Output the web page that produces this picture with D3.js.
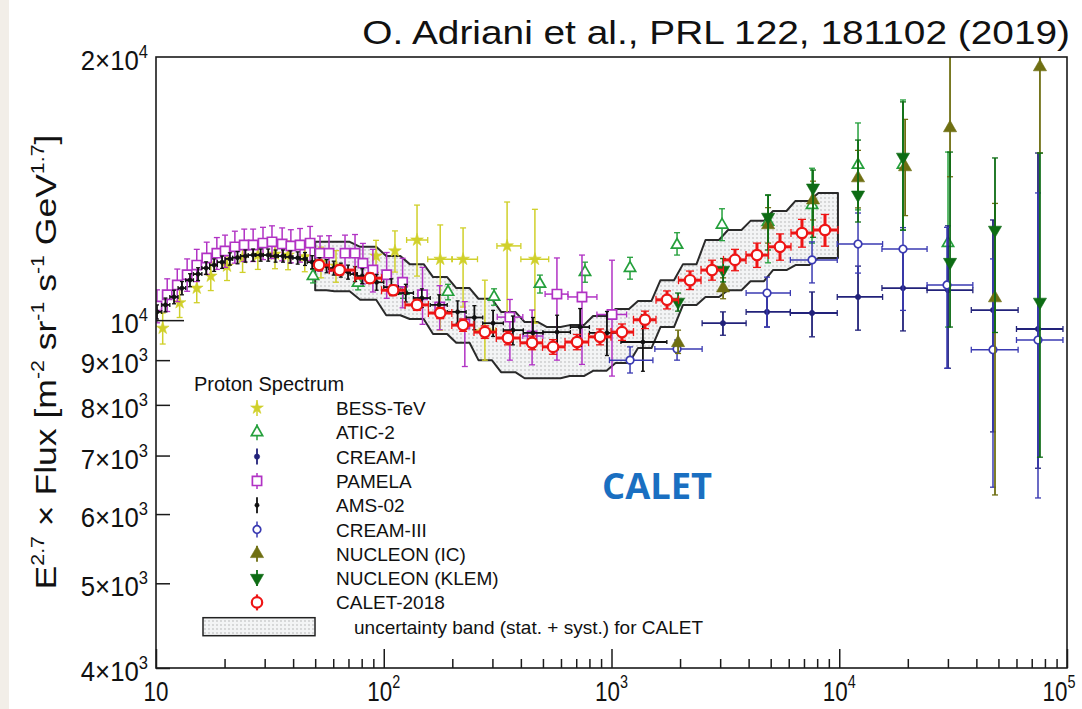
<!DOCTYPE html>
<html>
<head>
<meta charset="utf-8">
<script src="https://cdnjs.cloudflare.com/ajax/libs/d3/7.8.5/d3.min.js"></script>
<style>
  body { margin: 0; background: #fff; }
  svg { display: block; font-family: "Liberation Sans", Arial, sans-serif; }
</style>
</head>
<body>
<script>
// ---- values (E in GeV, flux x E^2.7) ----
// BESS-TeV
var bessE = [10.7,12.7,15.1,17.4,20.5,24,28,33.3,38,45,53,61.7,92.5,112,140,177,223,278,348,461];
var bessF = [9790,10470,10880,11230,11530,11780,11870,11900,11870,11820,11650,11530,11840,12000,12350,11740,11740,9740,12160,11740];
var bessErrHi = [400,400,410,420,430,440,440,450,450,460,470,480,500,650,1190,1110,1010,1370,1490,1650];
var bessErrLo = [400,400,410,420,430,440,440,450,450,460,470,480,500,650,1120,2000,1390,740,2080,1820];
var bessBinLo = [null,null,null,null,null,null,null,null,null,null,null,null,null,null,126,156,200,250,314,400];
var bessBinHi = [null,null,null,null,null,null,null,null,null,null,null,null,null,null,156,199,258,310,400,530];

// ATIC-2
var aticE = [48.9,77.1,121.5,191.5,305,485,765,1206,1940,3057,4866,7594,12090,19050,30030];
var aticF = [11230,11030,10800,10770,10630,11000,11350,11470,12190,12850,12950,13540,15050,15050,12250];
var aticErrHi = [200,200,210,220,230,260,300,330,400,560,940,1380,1760,2810,3320];
var aticErrLo = [200,200,210,220,230,260,300,330,320,520,1320,1290,1680,2380,2430];

// CREAM-I
var cream1E = [3086,4818,7594,12090,19050,30030,47320,74590];
var cream1F = [9920,10220,10190,10630,10880,10820,10270,9770];
var cream1ErrHi = [300,500,580,900,1160,2000,2750,5760];
var cream1ErrLo = [310,400,620,890,1160,2010,2820,3000];
var cream1BinLo = [2500,3900,6100,9800,15400,24300,38000,60000];
var cream1BinHi = [3900,6100,9800,15500,24300,38600,61000,96000];

// PAMELA
var pamE = [10.1,11.2,12.4,13.7,15.1,16.7,18.5,20.1,22.2,24.4,26.7,29.5,32.3,35.8,39.1,42.9,47.5,52.5,57.5,67.6,74.8,81,89.6,103,121,148,176,227,358,448,576,742,1005];
var pamF = [10380,10690,10970,11270,11560,11780,11930,12000,12130,12190,12190,12250,12290,12220,12160,12190,12250,11930,11930,11930,11930,11620,11410,11270,11050,10690,10350,9900,10080,9590,10710,10630,10150];
var pamErrHi = [450,460,470,480,490,500,500,510,510,520,520,520,530,530,530,540,550,550,560,580,600,620,640,680,720,800,600,600,480,680,1070,1240,1560];
var pamErrLo = [450,460,470,480,490,500,500,510,510,520,520,520,530,530,530,540,550,550,560,580,600,620,640,680,720,800,600,1050,1080,700,1710,1730,1520];
var pamBinLo = [null,null,null,null,null,null,null,null,null,null,null,null,null,null,null,null,null,null,null,null,null,null,null,null,null,null,null,null,315,408,511,644,863];
var pamBinHi = [null,null,null,null,null,null,null,null,null,null,null,null,null,null,null,null,null,null,null,null,null,null,null,null,null,null,null,null,408,500,644,863,1165];

// AMS-02
var amsE = [10.1,11.0,12.0,13.0,14.1,15.3,16.6,18.0,19.5,21.1,22.8,24.7,26.7,28.8,31.1,33.5,36.1,38.9,41.9,45.1,48.5,52.2,56.1,60.3,64.8,69.7,74.9,80.5,93,108,125,147,175,211,250,302,369,452,577,728,955,1374];
var amsF = [10220,10410,10630,10880,11110,11290,11470,11560,11650,11750,11790,11840,11870,11870,11870,11840,11840,11810,11780,11750,11650,11590,11530,11470,11410,11350,11290,11230,11050,10910,10740,10600,10410,10220,10070,9920,9740,9670,9690,9820,9670,9440];
var amsErr = [190,190,190,190,190,190,190,190,190,190,190,190,190,190,190,190,190,190,190,200,200,200,200,210,210,210,220,220,230,240,250,260,280,300,320,340,370,400,440,490,560,700];
var amsEdges = [9.6,10.6,11.5,12.5,13.5,14.6,15.9,17.2,18.6,20.1,21.7,23.5,25.4,27.4,29.6,31.9,34.4,37.0,39.9,42.9,46.1,49.6,53.3,57.3,61.6,66.2,71.2,76.6,86,100,116,135,160,190,230,272,335,410,500,660,800,1100,1750];

// CREAM-III
var cream3E = [1206,1940,4818,7594,12090,19050,29720,47320,74590];
var cream3F = [9000,9270,10740,11720,12220,12060,10970,9250,9490];
var cream3ErrHi = [320,220,460,570,1040,700,1800,2500,4490];
var cream3ErrLo = [300,270,920,690,900,1800,2160,2810,3230];
var cream3BinLo = [980,1550,3900,6100,9800,15400,24300,38000,60000];
var cream3BinHi = [1520,2500,6100,9800,15500,24300,38600,61000,96000];

// NUCLEON (IC)
var icE = [1960,3090,4870,7670,12090,19460,30650,48290,76070];
var icF = [9420,10880,12850,13720,14540,14970,16590,10600,19480];
var icErrHi = [320,300,600,700,1100,2000,6000,3000,8000];
var icErrLo = [260,300,600,700,1100,1800,2000,4290,3950];

// NUCLEON (KLEM)
var klemE = [1960,3090,4870,7670,12090,19050,30650,48290,76070];
var klemF = [10490,11410,13120,14170,13910,15370,11650,12680,10490];
var klemErrHi = [250,350,790,680,2160,2400,3920,2650,5040];
var klemErrLo = [250,350,1090,1730,960,2690,1830,3000,3520];

// CALET-2018 and its uncertainty band (one value per CALET bin)
var caletE = [52,64,87,110,140,177,223,278,351,448,554,706,890,1112,1403,1753,2212,2762,3485,4353,5493,6861,8659];
var caletF = [11560,11410,11170,10820,10410,10190,9870,9690,9540,9420,9320,9440,9570,9690,10010,10550,11110,11410,11720,11870,12130,12580,12680];
var caletErr = [150,150,150,150,150,150,160,160,170,170,180,190,200,210,230,250,270,300,330,380,420,460,530];
var caletEdges = [50,57.7,74.6,97.8,124,157,199,249,312,397,498,625,793,995,1249,1568,1969,2472,3102,3895,4890,6139,7708,9870];
var bandHi = [12290,12290,12130,11840,11590,11200,10880,10580,10220,9950,9820,9870,10110,10300,10520,11110,11590,12350,12680,12990,13330,13690,13980];
var bandLo = [10820,10790,10550,10130,10030,9640,9420,9000,8720,8580,8580,8630,8750,8930,9290,9820,10410,10630,10820,11080,11410,11560,11780];

// tick labels
var xTickVals = [10, 100, 1000, 10000, 100000];
var xTickExp = ["", "2", "3", "4", "5"];
var yTickVals = [4000, 5000, 6000, 7000, 8000, 9000, 10000, 20000];
var yTickMant = ["4", "5", "6", "7", "8", "9", "", "2"];
var yTickExp = ["3", "3", "3", "3", "3", "3", "4", "4"];

function makePoints(E, F, errLo, errHi, binLo, binHi) {
    return E.map(function(e, i) {
        return {E: e, F: F[i], lo: F[i] - errLo[i], hi: F[i] + errHi[i],
            e1: binLo ? binLo[i] : null, e2: binHi ? binHi[i] : null};
    });
}

var series = [
    {name: "BESS-TeV", pts: makePoints(bessE, bessF, bessErrLo, bessErrHi, bessBinLo, bessBinHi),
        color: "#d0d02a", sym: d3.symbolStar, size: 50, open: false, bar: 1.5, cap: 3},
    {name: "ATIC-2", pts: makePoints(aticE, aticF, aticErrLo, aticErrHi),
        color: "#25a03c", sym: d3.symbolTriangle, size: 55, open: true, bar: 1.5, cap: 3},
    {name: "CREAM-I", pts: makePoints(cream1E, cream1F, cream1ErrLo, cream1ErrHi, cream1BinLo, cream1BinHi),
        color: "#22227a", sym: d3.symbolCircle, size: 22, open: false, bar: 1.8, cap: 3},
    {name: "PAMELA", pts: makePoints(pamE, pamF, pamErrLo, pamErrHi, pamBinLo, pamBinHi),
        color: "#b132c4", sym: d3.symbolSquare, size: 85, open: true, bar: 1.5, cap: 3},
    {name: "AMS-02", pts: makePoints(amsE, amsF, amsErr, amsErr, amsEdges.slice(0, -1), amsEdges.slice(1)),
        color: "#111111", sym: d3.symbolCircle, size: 14, open: false, bar: 1.8, cap: 2},
    {name: "CREAM-III", pts: makePoints(cream3E, cream3F, cream3ErrLo, cream3ErrHi, cream3BinLo, cream3BinHi),
        color: "#3a3ab2", sym: d3.symbolCircle, size: 45, open: true, bar: 1.5, cap: 3},
    {name: "NUCLEON (IC)", pts: makePoints(icE, icF, icErrLo, icErrHi),
        color: "#6f6f12", sym: d3.symbolTriangle, size: 75, open: false, bar: 1.8, cap: 3},
    {name: "NUCLEON (KLEM)", pts: makePoints(klemE, klemF, klemErrLo, klemErrHi),
        color: "#0d6c14", sym: d3.symbolTriangle, size: 75, open: false, flip: true, bar: 1.8, cap: 3},
    {name: "CALET-2018", pts: makePoints(caletE, caletF, caletErr, caletErr, caletEdges.slice(0, -1), caletEdges.slice(1)),
        color: "#ee1515", sym: d3.symbolCircle, size: 85, open: true, bar: 3, cap: 4}
];

//svg size and margins
var svgWidth = 1082;
var svgHeight = 709;
var margin = {top: 57, right: 15, bottom: 41, left: 156};
var width = svgWidth - margin.left - margin.right;
var height = svgHeight - margin.top - margin.bottom;

var svg = d3.select("body").append("svg")
    .attr("width", svgWidth)
    .attr("height", svgHeight);
svg.append("rect").attr("width", svgWidth).attr("height", svgHeight).attr("fill", "#fff");
svg.append("rect").attr("width", 9).attr("height", svgHeight).attr("fill", "#f2eee8");

var defs = svg.append("defs");
var pat = defs.append("pattern").attr("id", "dots")
    .attr("width", 4).attr("height", 4).attr("patternUnits", "userSpaceOnUse");
pat.append("rect").attr("width", 4).attr("height", 4).attr("fill", "#f3f4f5");
pat.append("circle").attr("cx", 1).attr("cy", 1).attr("r", 0.65).attr("fill", "#a4a4a4");
defs.append("clipPath").attr("id", "plotclip")
    .append("rect").attr("width", width).attr("height", height);

var chartGroup = svg.append("g")
    .attr("transform", `translate(${margin.left},${margin.top})`);

//scales
var x = d3.scaleLog().domain([10, 1e5]).range([0, width]);
var y = d3.scaleLog().domain([4000, 20000]).range([height, 0]);

var plot = chartGroup.append("g").attr("clip-path", "url(#plotclip)");

//uncertainty band: flat step per calet bin with slanted joins
var bandTop = [], bandBot = [];
caletE.forEach(function(c, i) {
    var a = caletEdges[i], b = caletEdges[i + 1];
    var ea = i === 0 ? a : a * Math.pow(b / a, 0.2);
    var eb = i === caletE.length - 1 ? b : a * Math.pow(b / a, 0.8);
    bandTop.push([ea, bandHi[i]], [eb, bandHi[i]]);
    bandBot.push([ea, bandLo[i]], [eb, bandLo[i]]);
});
var bandLine = d3.line().x(d => x(d[0])).y(d => y(d[1]));
plot.append("path")
    .attr("d", bandLine(bandTop.concat(bandBot.reverse())) + "Z")
    .attr("fill", "url(#dots)")
    .attr("stroke", "#2a2a2a")
    .attr("stroke-width", 2)
    .attr("stroke-linejoin", "round");

function markerTransform(s, px, py) {
    return `translate(${px},${py})` + (s.flip ? " rotate(180)" : "");
}

//data series
series.forEach(function(s) {
    var g = plot.append("g");
    g.selectAll(".ey").data(s.pts).enter().append("line")
        .attr("x1", d => x(d.E)).attr("x2", d => x(d.E))
        .attr("y1", d => y(d.lo)).attr("y2", d => y(d.hi))
        .attr("stroke", s.color).attr("stroke-width", s.bar);
    var caps = [];
    s.pts.forEach(function(d) { caps.push({E: d.E, F: d.lo}, {E: d.E, F: d.hi}); });
    g.selectAll(".cy").data(caps).enter().append("line")
        .attr("x1", d => x(d.E) - s.cap).attr("x2", d => x(d.E) + s.cap)
        .attr("y1", d => y(d.F)).attr("y2", d => y(d.F))
        .attr("stroke", s.color).attr("stroke-width", 1.3);
    var hb = s.pts.filter(d => d.e1 != null);
    g.selectAll(".ex").data(hb).enter().append("line")
        .attr("x1", d => x(d.e1)).attr("x2", d => x(d.e2))
        .attr("y1", d => y(d.F)).attr("y2", d => y(d.F))
        .attr("stroke", s.color).attr("stroke-width", s.bar);
    var hcaps = [];
    hb.forEach(function(d) { hcaps.push({E: d.e1, F: d.F}, {E: d.e2, F: d.F}); });
    g.selectAll(".cx").data(hcaps).enter().append("line")
        .attr("x1", d => x(d.E)).attr("x2", d => x(d.E))
        .attr("y1", d => y(d.F) - s.cap).attr("y2", d => y(d.F) + s.cap)
        .attr("stroke", s.color).attr("stroke-width", 1.3);
    g.selectAll(".mk").data(s.pts).enter().append("path")
        .attr("transform", d => markerTransform(s, x(d.E), y(d.F)))
        .attr("d", d3.symbol().type(s.sym).size(s.size))
        .attr("fill", s.open ? "#fff" : s.color)
        .attr("stroke", s.color)
        .attr("stroke-width", s.open ? (s.bar > 2 ? 2.2 : 1.7) : 0.6);
});

//frame
chartGroup.append("rect")
    .attr("width", width).attr("height", height)
    .attr("fill", "none").attr("stroke", "#1a1a1a").attr("stroke-width", 1.6);

//x axis ticks (pointing inward)
var xMinor = x.ticks().filter(v => xTickVals.indexOf(v) < 0);
var gx1 = chartGroup.append("g").attr("transform", `translate(0,${height})`)
    .call(d3.axisBottom(x).tickValues(xMinor).tickSize(-9).tickFormat(""));
var gx2 = chartGroup.append("g").attr("transform", `translate(0,${height})`)
    .call(d3.axisBottom(x).tickValues(xTickVals).tickSize(-19).tickFormat(""));
//y axis ticks
var gy1 = chartGroup.append("g")
    .call(d3.axisLeft(y).tickValues([4000, 5000, 6000, 7000, 8000, 9000]).tickSize(-14).tickFormat(""));
var gy2 = chartGroup.append("g")
    .call(d3.axisLeft(y).tickValues([10000]).tickSize(-28).tickFormat(""));
[gx1, gx2, gy1, gy2].forEach(function(g) {
    g.select(".domain").remove();
    g.selectAll(".tick line").attr("stroke", "#1a1a1a").attr("stroke-width", 1.5);
});

//x tick labels, whole label centred on the tick (last one kept inside the page)
var xl = chartGroup.append("g").selectAll("text").data(xTickVals).enter().append("text")
    .attr("transform", (d, i) => `translate(${x(d) - (i === xTickVals.length - 1 ? 8 : 0)},${height + 33}) scale(0.8,1)`)
    .attr("text-anchor", "middle").attr("font-size", 28).attr("fill", "#111");
xl.append("tspan").text("10");
xl.append("tspan").attr("font-size", 18).attr("dy", -13).text((d, i) => xTickExp[i]);

//y tick labels
var yl = chartGroup.append("g").selectAll("text").data(yTickVals).enter().append("text")
    .attr("transform", d => `translate(-8,${y(d) + 3}) scale(0.92,1)`)
    .attr("text-anchor", "end").attr("font-size", 28).attr("fill", "#111").attr("dy", "0.36em");
yl.append("tspan").text((d, i) => yTickMant[i] ? yTickMant[i] + "×10" : "10");
yl.append("tspan").attr("font-size", 18).attr("dy", -12).text((d, i) => yTickExp[i]);

//y axis title with superscripts
var yTitle = svg.append("text").attr("font-size", 30).attr("text-anchor", "middle").attr("fill", "#111");
var titleParts = [["E", 0], ["2.7", 1], [" × Flux [m", 0], ["-2", 1], [" sr", 0], ["-1", 1],
    [" s", 0], ["-1", 1], [" GeV", 0], ["1.7", 1], ["]", 0]];
var lastSup = 0;
titleParts.forEach(function(p) {
    var t = yTitle.append("tspan").text(p[0]);
    if (p[1]) { t.attr("font-size", 18).attr("dy", -12); lastSup = 1; }
    else if (lastSup) { t.attr("dy", 12); lastSup = 0; }
});
var yw = yTitle.node().getComputedTextLength();
yTitle.attr("transform", `translate(56,362) rotate(-90) scale(${455 / yw},1)`);

//title
var title = svg.append("text").attr("text-anchor", "end").attr("font-size", 33).attr("fill", "#111")
    .text("O. Adriani et al., PRL 122, 181102 (2019)");
var tw = title.node().getComputedTextLength();
title.attr("transform", `translate(1070,44) scale(${708 / tw},1)`);

//big CALET label
var cal = svg.append("text").attr("text-anchor", "middle").attr("font-size", 36)
    .attr("font-family", "'Open Sans', sans-serif").attr("font-weight", "bold")
    .attr("fill", "#1a6fc1").text("CALET");
var cw = cal.node().getComputedTextLength();
cal.attr("transform", `translate(657,499) scale(${110 / cw},1)`);

//legend
var legend = svg.append("g");
legend.append("text").attr("x", 194).attr("y", 391).attr("font-size", 20).attr("fill", "#111")
    .text("Proton Spectrum");
var rows = legend.selectAll(".row").data(series).enter().append("g")
    .attr("transform", (d, i) => `translate(0,${408 + i * 24.3})`);
rows.append("line").attr("x1", 257).attr("x2", 257).attr("y1", -8).attr("y2", 8)
    .attr("stroke", d => d.color).attr("stroke-width", d => Math.min(d.bar, 2.2));
rows.append("path")
    .attr("transform", d => markerTransform(d, 257, 0))
    .attr("d", d => d3.symbol().type(d.sym).size(d.size)())
    .attr("fill", d => d.open ? "#fff" : d.color)
    .attr("stroke", d => d.color)
    .attr("stroke-width", d => d.open ? (d.bar > 2 ? 2.2 : 1.7) : 0.6);
rows.append("text").attr("x", 336).attr("y", 7).attr("font-size", 19).attr("fill", "#111")
    .text(d => d.name);
var by = 408 + series.length * 24.3;
legend.append("rect").attr("x", 203).attr("y", by - 9).attr("width", 112).attr("height", 18)
    .attr("fill", "url(#dots)").attr("stroke", "#222").attr("stroke-width", 1.5);
legend.append("text").attr("x", 354).attr("y", by + 7).attr("font-size", 19).attr("fill", "#111")
    .text("uncertainty band (stat. + syst.) for CALET");
</script>
</body>
</html>
